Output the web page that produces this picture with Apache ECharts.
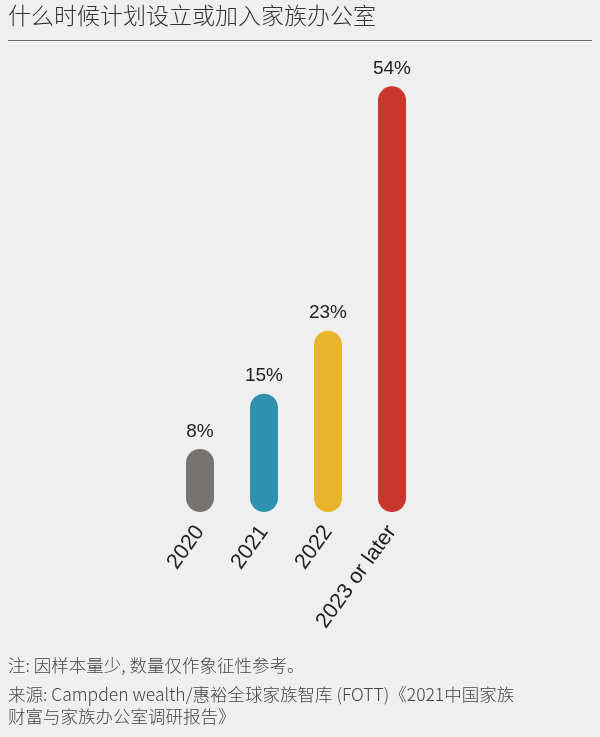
<!DOCTYPE html>
<html><head><meta charset="utf-8">
<script src="https://cdn.jsdelivr.net/npm/echarts@6/dist/echarts.min.js"></script>
<style>html,body{margin:0;padding:0;background:#efefef;}#c{width:600px;height:737px;}</style>
</head><body><div id="c"></div>
<script>
const categories = ['2020', '2021', '2022', '2023 or later'];
const values = [8, 15, 23, 54];
const barColors = ['#777371', '#2f93b0', '#e7b42b', '#c8372b'];
const titleText = '什么时候计划设立或加入家族办公室';
const noteText = '注: 因样本量少, 数量仅作象征性参考。';
const sourceLine1 = '来源: Campden wealth/惠裕全球家族智库 (FOTT)《2021中国家族';
const sourceLine2 = '财富与家族办公室调研报告》';

const font = '"Noto Sans CJK SC", "Noto Sans", sans-serif';
const chart = echarts.init(document.getElementById('c'));
chart.setOption({
  backgroundColor: '#efefef',
  animation: false,
  grid: { left: 168, width: 256, top: 39, bottom: 225 },
  xAxis: {
    type: 'category', data: categories,
    axisLine: { show: false }, axisTick: { show: false },
    axisLabel: { rotate: 54, margin: 16, fontSize: 21.5, color: '#222', fontFamily: 'Liberation Sans, Arial, sans-serif', interval: 0 }
  },
  yAxis: { type: 'value', min: 0, max: 60, show: false, splitLine: { show: false } },
  series: [{
    type: 'bar', barWidth: 28,
    data: values.map((v, i) => ({ value: v, itemStyle: { color: barColors[i] } })),
    itemStyle: { borderRadius: 14 },
    label: { show: true, position: 'top', distance: 8, formatter: '{c}%', fontSize: 19, color: '#222', fontFamily: 'Liberation Sans, Arial, sans-serif' }
  }],
  graphic: [
    { type: 'text', left: 8, top: 4, style: { text: titleText, fontSize: 23, fill: '#333', fontFamily: font, fontWeight: 300 } },
    { type: 'rect', shape: { x: 8, y: 40, width: 584, height: 1 }, style: { fill: '#666' } },
    { type: 'text', left: 8, top: 657, style: { text: noteText, fontSize: 17.5, fill: '#444', fontFamily: font, fontWeight: 300 } },
    { type: 'text', left: 8, top: 686, style: { text: sourceLine1, fontSize: 17.5, fill: '#444', fontFamily: font, fontWeight: 300 } },
    { type: 'text', left: 8, top: 708, style: { text: sourceLine2, fontSize: 17.5, fill: '#444', fontFamily: font, fontWeight: 300 } }
  ]
});
</script></body></html>
